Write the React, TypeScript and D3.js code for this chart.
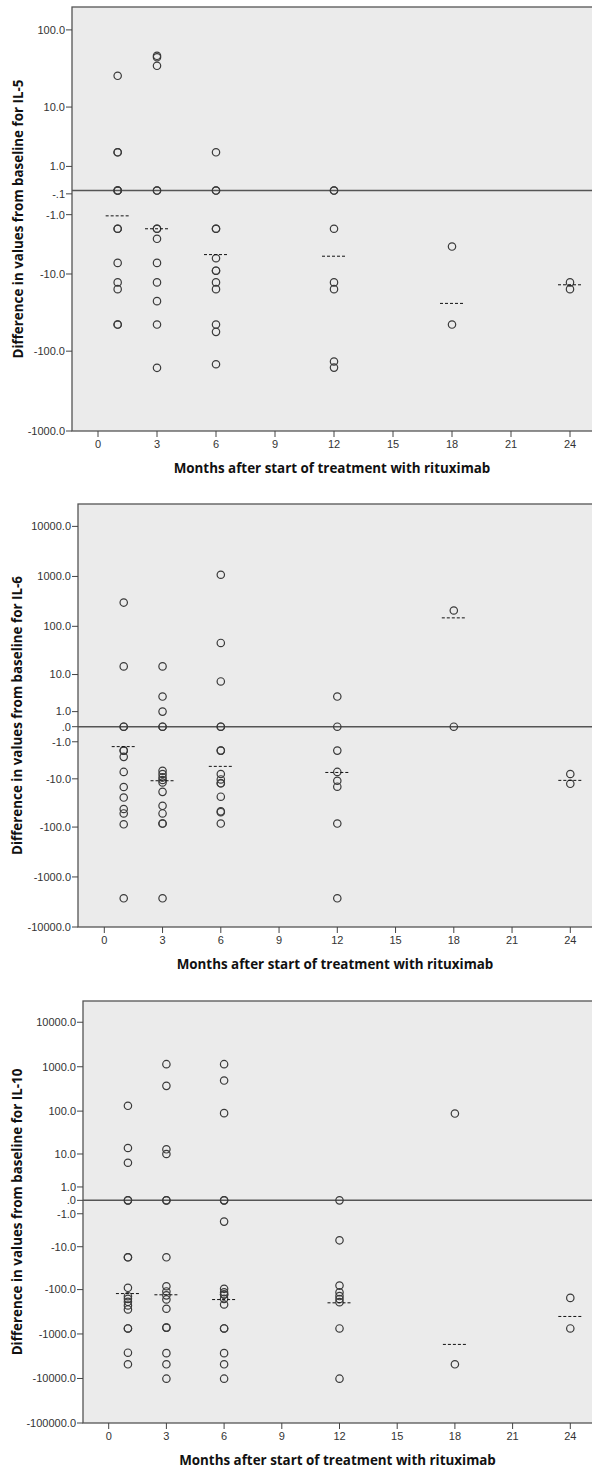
import React from 'react';
import * as d3 from 'd3';

// months with measurements
const months = [1, 3, 6, 12, 18, 24];
const xTicks = [0, 3, 6, 9, 12, 15, 18, 21, 24];

// IL-5: one list per month
const il5Values = [
  [26, 2, 2, 0, 0, 0, -2, -2, -7, -13, -16, -46, -46],
  [47, 45, 35, 0, 0, -2, -2, -3, -7, -13, -23, -46, -162],
  [2, 0, 0, -2, -2, -6, -9, -9, -13, -16, -46, -57, -146],
  [0, 0, -2, -13, -16, -135, -161],
  [-4, -46],
  [-13, -16],
];
const il5Medians = [-1.07, -2, -5.3, -5.6, -24.6, -14];
const il5Ticks = [100, 10, 1, -0.1, -1, -10, -100, -1000];
const il5TickLabels = ['100.0', '10.0', '1.0', '-.1', '-1.0', '-10.0', '-100.0', '-1000.0'];

// IL-6
const il6Values = [
  [300, 15, 0, 0, -2, -2, -3, -7, -15, -25, -43, -53, -88, -2670],
  [15, 3, 1, 0, 0, -6.6, -7.8, -9.3, -10.6, -12, -19, -37, -53, -85, -85, -2670],
  [1080, 46, 7, 0, 0, -2, -2, -7.8, -10.3, -12.5, -12.5, -24, -48, -50, -85],
  [3, 0, -2, -7, -11, -14.8, -85, -2670],
  [208, 0],
  [-7.8, -12.8],
];
const il6Medians = [-1.5, -11, -5.2, -7.2, 148, -10.8];
const il6Ticks = [10000, 1000, 100, 10, 1, 0, -1, -10, -100, -1000, -10000];
const il6TickLabels = ['10000.0', '1000.0', '100.0', '10.0', '1.0', '.0', '-1.0', '-10.0', '-100.0', '-1000.0', '-10000.0'];

// IL-10
const il10Values = [
  [132, 14, 6, 0, 0, -18, -18, -91, -141, -162, -189, -229, -281, -752, -752, -2640, -4800],
  [1143, 372, 13, 10, 0, 0, -18, -84, -110, -135, -167, -271, -720, -720, -2700, -4800, -10100],
  [1143, 490, 90, 0, 0, -2, -96, -115, -129, -129, -162, -217, -752, -752, -2700, -4800, -10100],
  [0, -6.9, -81, -115, -140, -163, -192, -752, -10100],
  [88, -4800],
  [-154, -752],
];
const il10Medians = [-123, -131, -168, -199, -1718, -404];
const il10Ticks = [10000, 1000, 100, 10, 1, 0, -1, -10, -100, -1000, -10000, -100000];
const il10TickLabels = ['10000.0', '1000.0', '100.0', '10.0', '1.0', '.0', '-1.0', '-10.0', '-100.0', '-1000.0', '-10000.0', '-100000.0'];

const xTitle = 'Months after start of treatment with rituximab';

const panels = [
  {
    name: 'IL-5', values: il5Values, medians: il5Medians, ticks: il5Ticks, tickLabels: il5TickLabels,
    yDomain: [-1000, 194], left: 72, top: 7, bottom: 431, x0: 98, x24: 570, titleX: 18,
  },
  {
    name: 'IL-6', values: il6Values, medians: il6Medians, ticks: il6Ticks, tickLabels: il6TickLabels,
    yDomain: [-10000, 28000], left: 78, top: 504, bottom: 927, x0: 104.3, x24: 570.3, titleX: 17,
  },
  {
    name: 'IL-10', values: il10Values, medians: il10Medians, ticks: il10Ticks, tickLabels: il10TickLabels,
    yDomain: [-100000, 30000], left: 83, top: 1001, bottom: 1423, x0: 108.7, x24: 570.3, titleX: 17,
  },
];

const W = 592;
const H = 1470;
const RIGHT = 595;
const tickFont = '"Liberation Sans", Arial, sans-serif';
const titleFont = '"Open Sans", "DejaVu Sans", sans-serif';

const Panel = ({ p }: { p: any }) => {
  const x = d3.scaleLinear().domain([0, 24]).range([p.x0, p.x24]);
  const y = d3.scaleSymlog().constant(1).domain(p.yDomain).range([p.bottom, p.top]);
  const midY = (p.top + p.bottom) / 2;
  const midX = (p.left + W) / 2;

  return (
    <g>
      <rect x={p.left} y={p.top} width={RIGHT - p.left} height={p.bottom - p.top}
        fill="#ebebeb" stroke="#555" strokeWidth={1.3} />

      {/* reference line at zero */}
      <line x1={p.left} x2={RIGHT} y1={y(0)} y2={y(0)} stroke="#555" strokeWidth={1.5} />

      {/* y axis */}
      {p.ticks.map((t: number, i: number) => (
        <g key={'y' + i} transform={`translate(${p.left},${y(t)})`}>
          <line x1={-6} x2={0} stroke="#444" strokeWidth={1} />
          <text x={-7} dy="0.35em" textAnchor="end" fontSize={11} fontFamily={tickFont} fill="#333">
            {p.tickLabels[i]}
          </text>
        </g>
      ))}

      {/* x axis */}
      {xTicks.map((t) => (
        <g key={'x' + t} transform={`translate(${x(t)},${p.bottom})`}>
          <line y1={0} y2={6} stroke="#444" strokeWidth={1} />
          <text y={17} textAnchor="middle" fontSize={11} fontFamily={tickFont} fill="#333">{t}</text>
        </g>
      ))}

      {/* points */}
      {months.map((m, i) => (
        <g key={'m' + m}>
          {p.values[i].map((v: number, j: number) => (
            <circle key={j} cx={x(m)} cy={y(v)} r={3.7} fill="none" stroke="#3a3a3a" strokeWidth={1.2} />
          ))}
          <line x1={x(m) - 12} x2={x(m) + 12} y1={y(p.medians[i])} y2={y(p.medians[i])}
            stroke="#111" strokeWidth={1} strokeDasharray="3,2" />
        </g>
      ))}

      <text x={midX} y={p.bottom + 42} textAnchor="middle" fontSize={13.4} fontWeight="bold"
        fontFamily={titleFont} fill="#111">{xTitle}</text>
      <text transform={`translate(${p.titleX + 5},${midY}) rotate(-90)`} textAnchor="middle"
        fontSize={13.4} fontWeight="bold" fontFamily={titleFont} fill="#111">
        {'Difference in values from baseline for ' + p.name}
      </text>
    </g>
  );
};

export default function App() {
  return (
    <div style={{ position: 'absolute', left: 0, top: 0 }}>
      <svg width={W} height={H} style={{ display: 'block', background: '#fff' }}>
        {panels.map((p) => <Panel key={p.name} p={p} />)}
      </svg>
    </div>
  );
}
